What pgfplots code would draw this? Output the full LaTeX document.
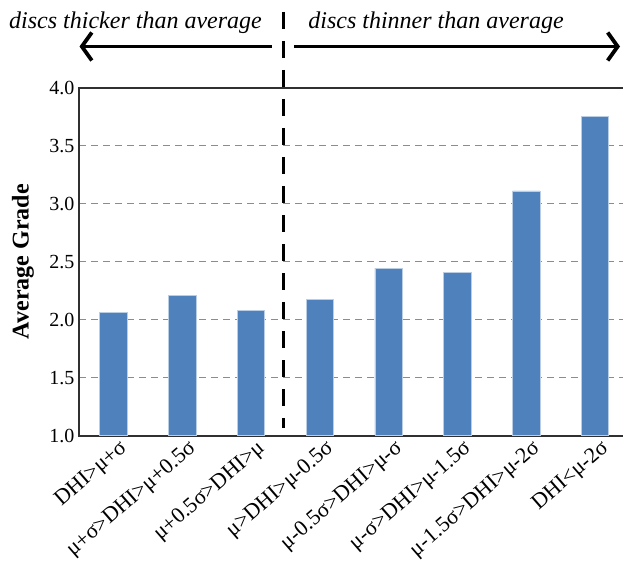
\documentclass[border=0pt]{standalone}
\usepackage{fontspec}
\setmainfont{Liberation Serif}
\usepackage{pgfplots}
\pgfplotsset{compat=1.18}
\usetikzlibrary{arrows.meta}
\definecolor{barblue}{HTML}{4F81BD}
\definecolor{baredge}{HTML}{B9CDE5}
\definecolor{gridgray}{HTML}{8C8C8C}
\definecolor{axisgray}{HTML}{303030}
\begin{document}
\begin{tikzpicture}[x=1pt,y=1pt]
\useasboundingbox (0,0) rectangle (623,566);
\begin{axis}[
  at={(79pt,130.3pt)}, anchor=south west,
  scale only axis, width=550.4pt, height=348pt,
  xmin=-0.5, xmax=7.5, ymin=1, ymax=4,
  ytick={1,1.5,2,2.5,3,3.5,4},
  xtick={0,1,2,3,4,5,6,7},
  xticklabels={DHI>μ+σ, μ+σ>DHI>μ+0.5σ, μ+0.5σ>DHI>μ, μ>DHI>μ-0.5σ, μ-0.5σ>DHI>μ-σ, μ-σ>DHI>μ-1.5σ, μ-1.5σ>DHI>μ-2σ, DHI<μ-2σ},
  xticklabel style={rotate=41, anchor=north east, font=\fontsize{22}{26}\selectfont, inner sep=0pt, xshift=2pt, yshift=-5pt},
  yticklabel style={/pgf/number format/fixed, /pgf/number format/fixed zerofill, /pgf/number format/precision=1, /pgf/number format/assume math mode=true, font=\fontsize{20}{23}\selectfont, xshift=-1pt},
  major tick length=0pt,
  ymajorgrids,
  major grid style={gridgray, line width=1.3pt, dash pattern=on 7pt off 5pt},
  axis line style={axisgray, line width=1.6pt},
]
\addplot[ybar, bar width=27.4pt, fill=barblue, draw=baredge, line width=0.6pt] coordinates {
  (0,2.06) (1,2.21) (2,2.08) (3,2.175) (4,2.445) (5,2.41) (6,3.11) (7,3.75)};
\end{axis}
\node[rotate=90, font=\bfseries\fontsize{24}{28}\selectfont] at (23,304.3) {Average Grade};
\draw[line width=3.6pt, dash pattern=on 17pt off 12pt] (283.3,554) -- (283.3,138);
\draw[line width=3.8pt, -{Straight Barb[length=10pt,width=28pt]}] (271.7,519.5) -- (79.5,519.5);
\draw[line width=3.8pt, -{Straight Barb[length=10pt,width=28pt]}] (294,519.5) -- (620,519.5);
\node[font=\itshape\fontsize{24}{28}\selectfont, anchor=base] at (135.5,537.7) {discs thicker than average};
\node[font=\itshape\fontsize{24}{28}\selectfont, anchor=base] at (436,537.7) {discs thinner than average};
\end{tikzpicture}
\end{document}
